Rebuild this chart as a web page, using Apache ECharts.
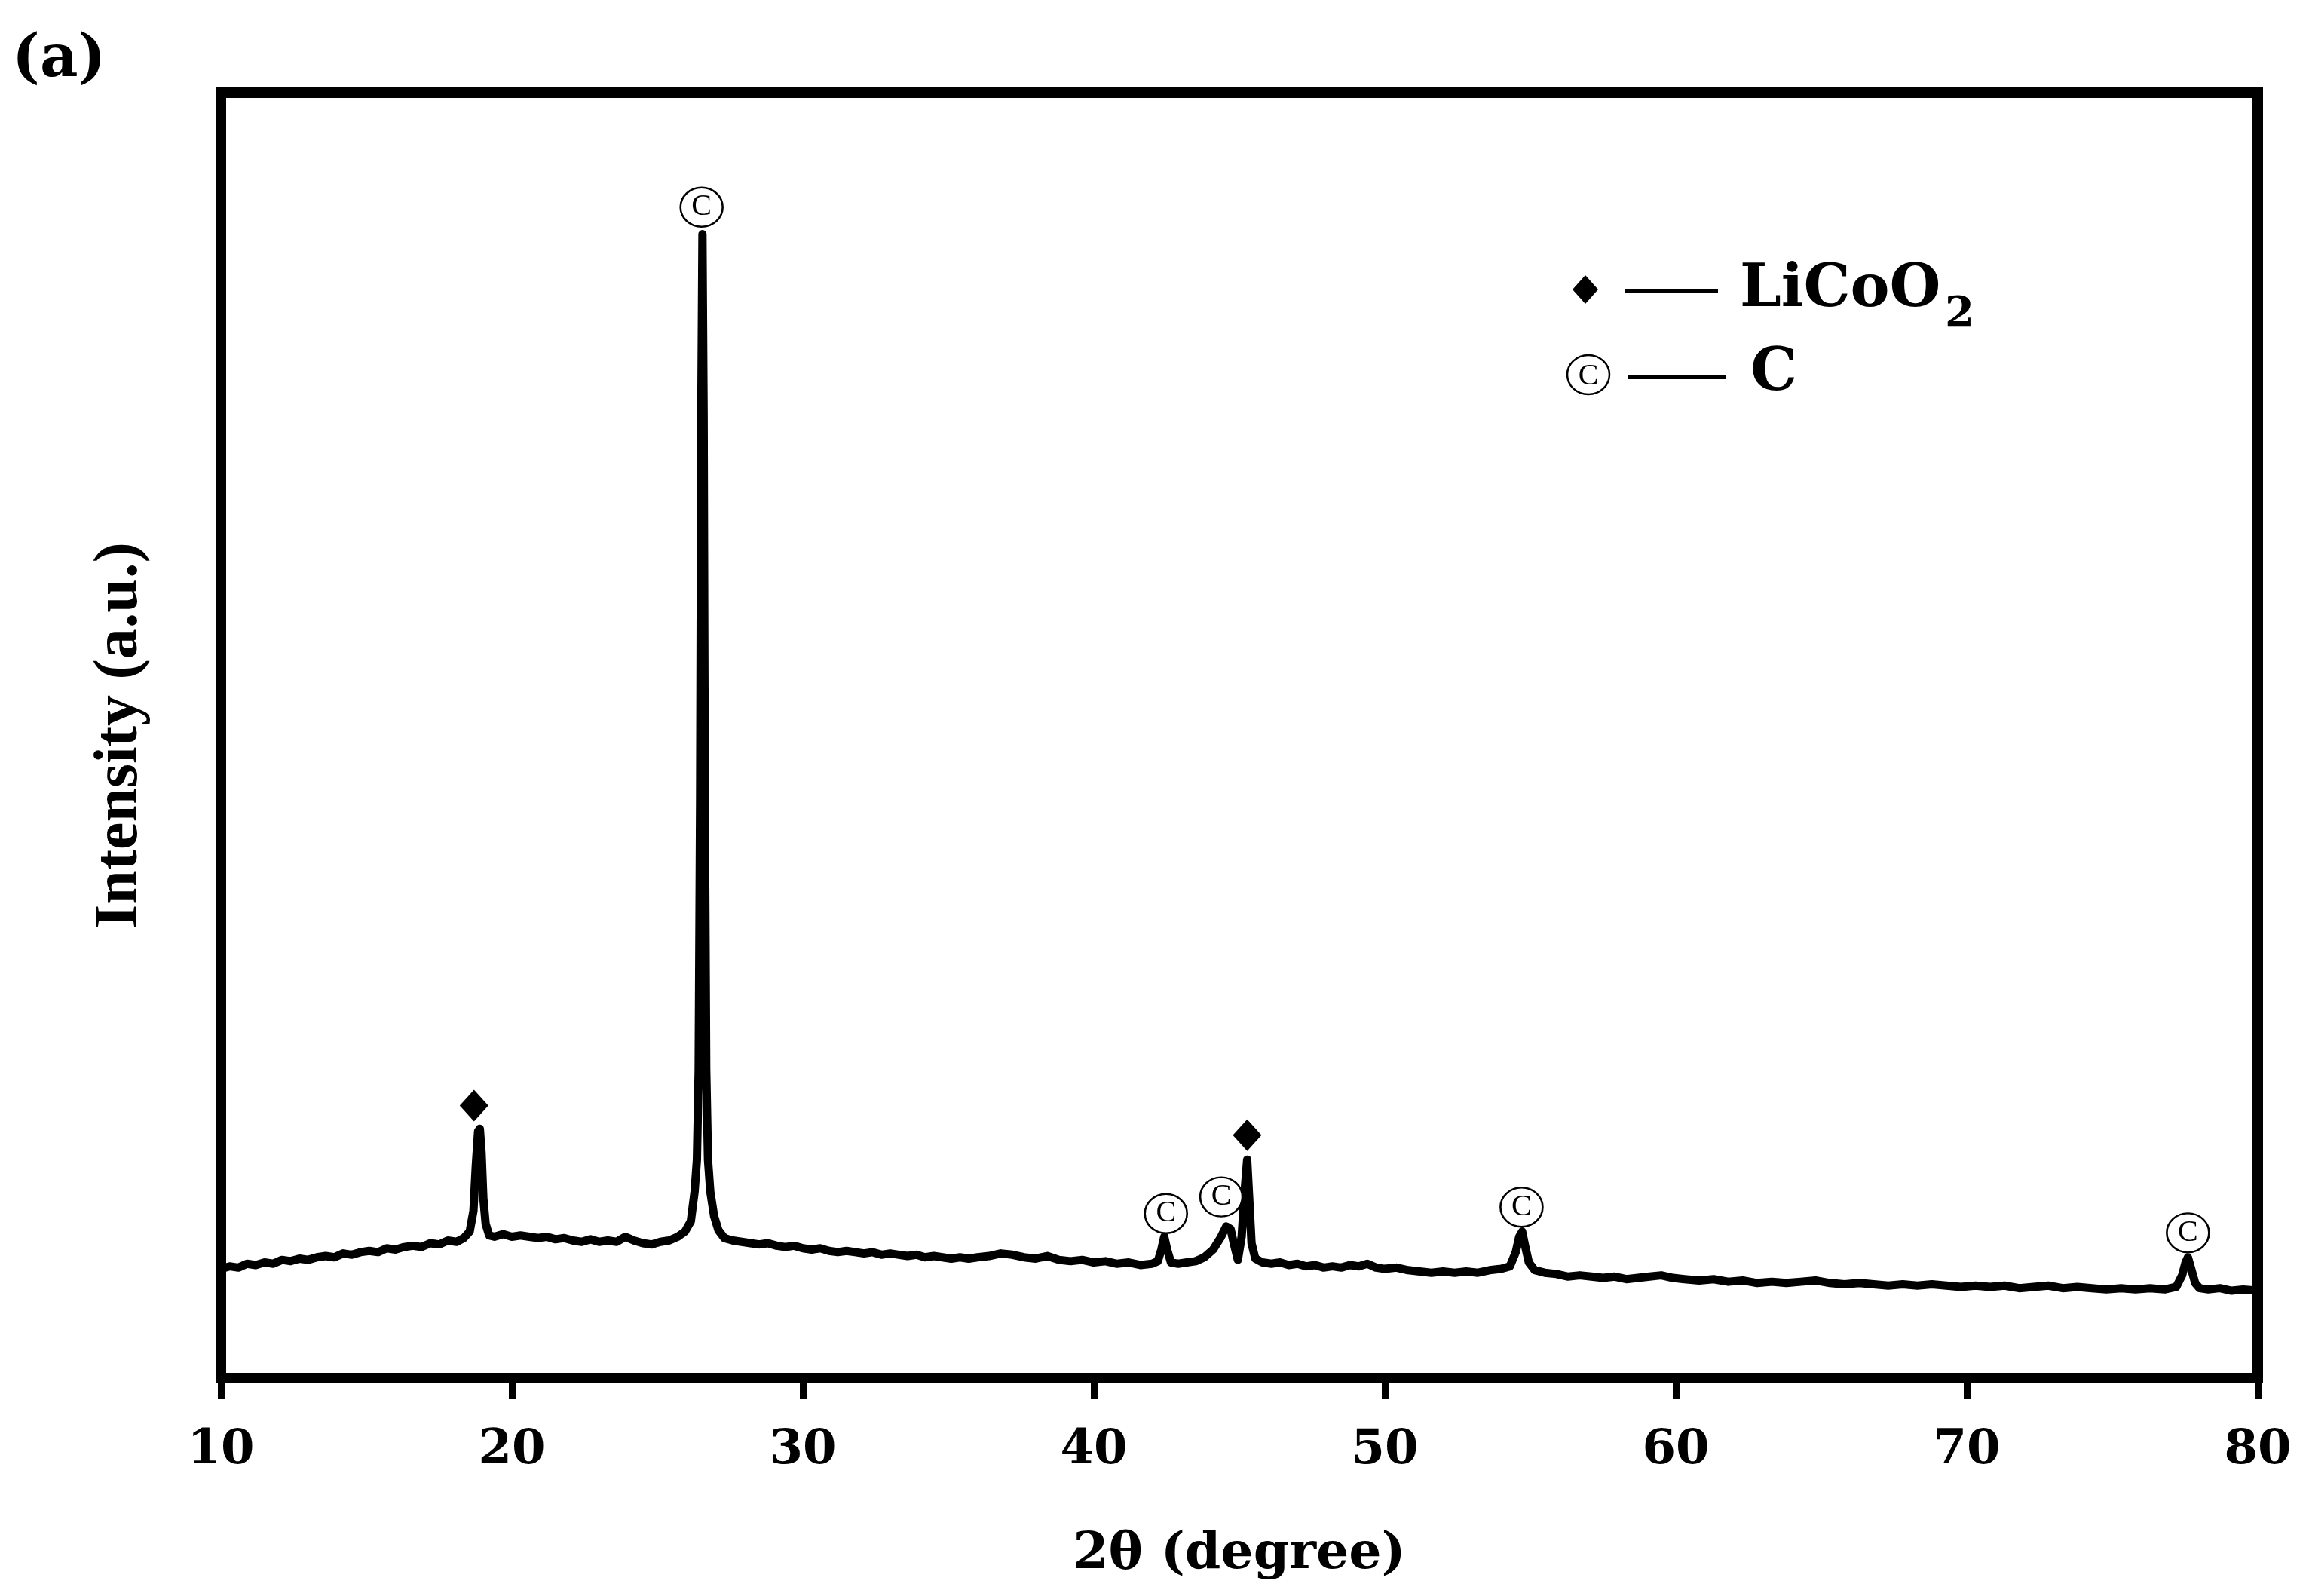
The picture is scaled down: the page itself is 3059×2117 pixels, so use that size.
<!DOCTYPE html>
<html>
<head>
<meta charset="utf-8">
<script src="https://cdn.jsdelivr.net/npm/echarts@6/dist/echarts.min.js"></script>
<style>
html,body{margin:0;padding:0;background:#fff;}
#chart{width:3059px;height:2117px;}
</style>
</head>
<body>
<div id="chart"></div>
<script>
// ---- Data ----
const twoTheta = [
10.0,10.3,10.6,10.9,11.2,11.5,11.8,12.1,12.4,12.7,13.0,13.3,13.6,13.9,14.2,14.5,14.8,15.1,15.4,15.7,
16.0,16.3,16.6,16.9,17.2,17.5,17.8,18.1,18.35,18.55,18.68,18.76,18.84,18.90,18.96,19.02,19.10,19.22,19.4,19.7,
20.0,20.3,20.6,20.9,21.2,21.5,21.8,22.1,22.4,22.7,23.0,23.3,23.6,23.9,24.2,24.5,24.8,25.1,25.4,25.7,
25.95,26.15,26.28,26.36,26.42,26.47,26.51,26.55,26.59,26.63,26.68,26.74,26.82,26.95,27.1,27.3,27.6,27.9,28.2,28.5,
28.8,29.1,29.4,29.7,30.0,30.3,30.6,30.9,31.2,31.5,31.8,32.1,32.4,32.7,33.0,33.3,33.6,33.9,34.2,34.5,
34.8,35.1,35.4,35.7,36.0,36.4,36.8,37.2,37.6,38.0,38.4,38.8,39.2,39.6,40.0,40.4,40.8,41.2,41.6,42.0,
42.2,42.32,42.42,42.52,42.65,42.9,43.2,43.5,43.8,44.1,44.35,44.55,44.7,44.82,44.95,45.08,45.18,45.27,45.34,45.42,
45.55,45.8,46.1,46.4,46.7,47.0,47.3,47.6,47.9,48.2,48.5,48.8,49.1,49.4,49.7,50.0,50.4,50.8,51.2,51.6,
52.0,52.4,52.8,53.2,53.6,54.0,54.3,54.5,54.62,54.72,54.82,54.95,55.15,55.5,55.9,56.3,56.7,57.1,57.5,57.9,
58.3,58.7,59.1,59.5,59.9,60.3,60.8,61.3,61.8,62.3,62.8,63.3,63.8,64.3,64.8,65.3,65.8,66.3,66.8,67.3,
67.8,68.3,68.8,69.3,69.8,70.3,70.8,71.3,71.8,72.3,72.8,73.3,73.8,74.3,74.8,75.3,75.8,76.3,76.8,77.2,
77.4,77.52,77.6,77.7,77.85,78.0,78.3,78.7,79.1,79.5,80.0
];
const intensity = [
8.5,8.7,8.6,8.9,8.8,9.0,8.9,9.2,9.1,9.3,9.2,9.4,9.5,9.4,9.7,9.6,9.8,9.9,9.8,10.1,
10.0,10.2,10.3,10.2,10.5,10.4,10.7,10.6,10.9,11.4,13.0,16.5,19.2,19.4,17.5,14.0,12.0,11.1,11.0,11.2,
11.0,11.1,11.0,10.9,11.0,10.8,10.9,10.7,10.6,10.8,10.6,10.7,10.6,11.0,10.7,10.5,10.4,10.6,10.7,11.0,
11.4,12.2,14.5,17.0,24,45,75,89.0,75,45,24,17.0,14.5,12.6,11.5,10.9,10.7,10.6,10.5,10.4,
10.5,10.3,10.2,10.3,10.1,10.0,10.1,9.9,9.8,9.9,9.8,9.7,9.8,9.6,9.7,9.6,9.5,9.6,9.4,9.5,
9.4,9.3,9.4,9.3,9.4,9.5,9.7,9.6,9.4,9.3,9.5,9.2,9.1,9.2,9.0,9.1,8.9,9.0,8.8,8.9,
9.1,10.0,11.0,10.0,9.0,8.9,9.0,9.1,9.4,10.0,10.9,11.8,11.6,10.4,9.2,11.0,14.5,17.0,14.0,10.5,
9.3,9.0,8.9,9.0,8.8,8.9,8.7,8.8,8.6,8.7,8.6,8.8,8.7,8.9,8.6,8.5,8.6,8.4,8.3,8.2,
8.3,8.2,8.3,8.2,8.4,8.5,8.7,9.8,11.0,11.4,10.3,9.0,8.4,8.2,8.1,7.9,8.0,7.9,7.8,7.9,
7.7,7.8,7.9,8.0,7.8,7.7,7.6,7.7,7.5,7.6,7.4,7.5,7.4,7.5,7.6,7.4,7.3,7.4,7.3,7.2,
7.3,7.2,7.3,7.2,7.1,7.2,7.1,7.2,7.0,7.1,7.2,7.0,7.1,7.0,6.9,7.0,6.9,7.0,6.9,7.1,
8.0,9.0,9.4,8.6,7.4,7.0,6.9,7.0,6.8,6.9,6.8
];
// Phase markers
const licoo2X = [18.7, 45.27];
const licoo2Y = [21.2, 18.9];
const carbonX = [26.52, 42.48, 44.38, 54.7, 77.6];
const carbonY = [91.1, 12.8, 14.1, 13.3, 11.3];
// Axis
const xTicks = [10, 20, 30, 40, 50, 60, 70, 80];

const lineData = twoTheta.map((x, i) => [x, intensity[i]]);
const diamondData = licoo2X.map((x, i) => [x, licoo2Y[i]]);
const carbonData = carbonX.map((x, i) => [x, carbonY[i]]);

const chart = echarts.init(document.getElementById('chart'), null, {renderer: 'canvas'});
const boldSerif = 'DejaVu Serif';
chart.setOption({
  animation: false,
  backgroundColor: '#fff',
  grid: {
    left: 293, right: 64, top: 123, bottom: 289,
    show: true, borderColor: '#000', borderWidth: 14, backgroundColor: 'transparent'
  },
  xAxis: [{
    type: 'value', min: xTicks[0], max: xTicks[xTicks.length - 1], interval: 10,
    position: 'bottom',
    axisLine: {show: true, lineStyle: {color: '#000', width: 14}},
    axisTick: {show: true, inside: false, length: 28, lineStyle: {color: '#000', width: 9}},
    splitLine: {show: false},
    axisLabel: {show: true, margin: 64, color: '#000', fontFamily: boldSerif, fontWeight: 'bold', fontSize: 64},
    name: '2θ (degree)', nameLocation: 'middle', nameGap: 200,
    nameTextStyle: {color: '#000', fontFamily: boldSerif, fontWeight: 'bold', fontSize: 68}
  }],
  yAxis: [{
    type: 'value', min: 0, max: 100,
    axisLine: {show: false}, axisTick: {show: false}, axisLabel: {show: false}, splitLine: {show: false},
    name: 'Intensity (a.u.)', nameLocation: 'middle', nameGap: 92,
    nameTextStyle: {color: '#000', fontFamily: 'Liberation Serif', fontWeight: 'bold', fontSize: 82}
  }],
  series: [
    {
      type: 'line', data: lineData, showSymbol: false, symbol: 'none',
      lineStyle: {color: '#000', width: 11, join: 'round'}, z: 2, silent: true
    },
    {
      type: 'scatter', data: diamondData, symbol: 'diamond', symbolSize: [38, 42],
      itemStyle: {color: '#000', opacity: 1}, z: 3, silent: true
    },
    {
      type: 'scatter', data: carbonData, symbol: 'circle', symbolSize: [56, 52],
      itemStyle: {color: '#fff', borderColor: '#000', borderWidth: 2.5, opacity: 1}, z: 3, silent: true,
      label: {show: true, position: 'inside', formatter: 'C', color: '#000',
        fontFamily: 'Liberation Serif', fontSize: 40}
    }
  ],
  graphic: [
    {type: 'text', left: 16, top: 42, style: {text: '(a)', fill: '#000', font: 'bold 78px "DejaVu Serif"'}},
    // legend row 1
    {type: 'polygon', shape: {points: [[2103, 365], [2120, 384], [2103, 403], [2086, 384]]}, style: {fill: '#000'}},
    {type: 'line', shape: {x1: 2156, y1: 386, x2: 2279, y2: 386}, style: {stroke: '#000', lineWidth: 6}},
    {type: 'text', x: 2308, y: 386, style: {text: 'LiCoO', fill: '#000', font: 'bold 78px "DejaVu Serif"', verticalAlign: 'middle', align: 'left'}},
    {type: 'text', x: 2580, y: 418, style: {text: '2', fill: '#000', font: 'bold 56px "DejaVu Serif"', verticalAlign: 'middle', align: 'left'}},
    // legend row 2
    {type: 'ellipse', shape: {cx: 2107, cy: 497, rx: 28, ry: 26}, style: {fill: '#fff', stroke: '#000', lineWidth: 2.5}},
    {type: 'text', x: 2107, y: 499, style: {text: 'C', fill: '#000', font: '40px "Liberation Serif"', verticalAlign: 'middle', align: 'center'}},
    {type: 'line', shape: {x1: 2160, y1: 500, x2: 2289, y2: 500}, style: {stroke: '#000', lineWidth: 6}},
    {type: 'text', x: 2322, y: 497, style: {text: 'C', fill: '#000', font: 'bold 78px "DejaVu Serif"', verticalAlign: 'middle', align: 'left'}}
  ]
});
</script>
</body>
</html>
